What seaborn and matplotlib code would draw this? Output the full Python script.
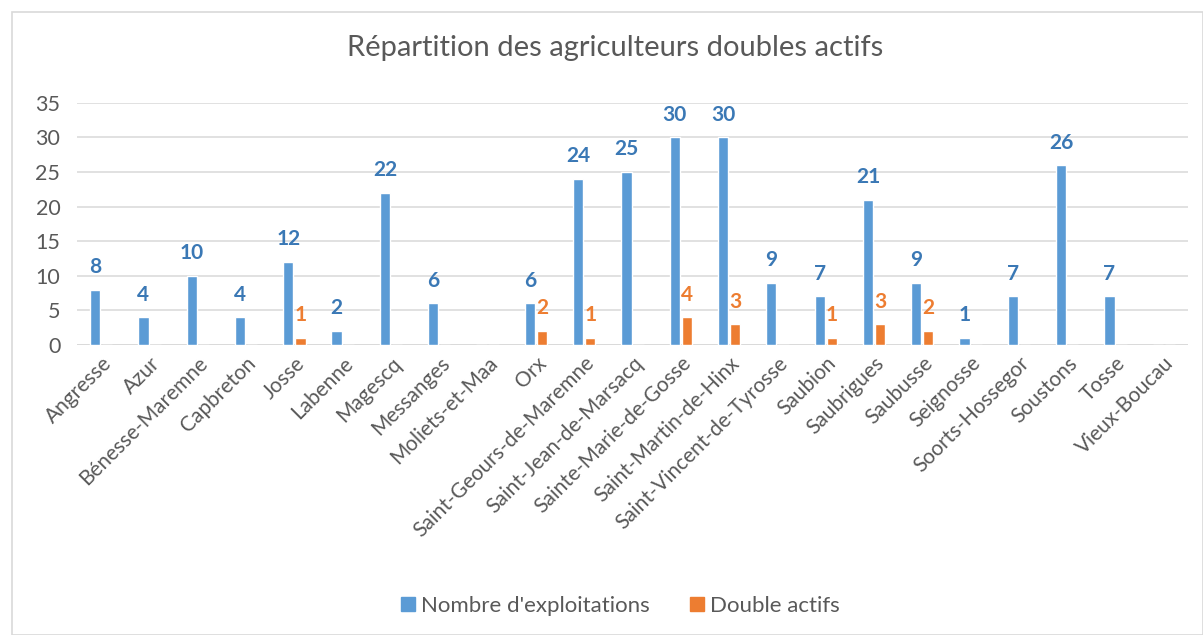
import matplotlib
matplotlib.use("Agg")
import matplotlib.pyplot as plt
import seaborn as sns
import pandas as pd
from matplotlib.patches import Rectangle

communes = [
    "Angresse", "Azur", "Bénesse-Maremne", "Capbreton", "Josse", "Labenne",
    "Magescq", "Messanges", "Moliets-et-Maa", "Orx", "Saint-Geours-de-Maremne",
    "Saint-Jean-de-Marsacq", "Sainte-Marie-de-Gosse", "Saint-Martin-de-Hinx",
    "Saint-Vincent-de-Tyrosse", "Saubion", "Saubrigues", "Saubusse",
    "Seignosse", "Soorts-Hossegor", "Soustons", "Tosse", "Vieux-Boucau",
]
nb_exploitations = [8, 4, 10, 4, 12, 2, 22, 6, 0, 6, 24, 25, 30, 30, 9, 7, 21, 9, 1, 7, 26, 7, 0]
double_actifs = [0, 0, 0, 0, 1, 0, 0, 0, 0, 2, 1, 0, 4, 3, 0, 1, 3, 2, 0, 0, 0, 0, 0]
series = ["Nombre d'exploitations", "Double actifs"]

BLUE = "#5B9BD5"
ORANGE = "#ED7D31"
TEXT = "#595959"

df = pd.DataFrame({
    "Commune": communes * 2,
    "Valeur": nb_exploitations + double_actifs,
    "Serie": [series[0]] * len(communes) + [series[1]] * len(communes),
})

sns.set_theme(style="white")
plt.rcParams["font.family"] = ["Lato", "DejaVu Sans"]

fig = plt.figure(figsize=(12.03, 6.35), dpi=100)
fig.patches.append(Rectangle((0.01, 0.0), 0.99, 0.981, transform=fig.transFigure,
                             fill=False, edgecolor="#D9D9D9", linewidth=1.2))
ax = fig.add_axes([0.064, 0.457, 0.9235, 0.381])

sns.barplot(data=df, x="Commune", y="Valeur", hue="Serie", order=communes,
            hue_order=series, palette=[BLUE, ORANGE], width=0.5, gap=0.15,
            saturation=1, legend=False, ax=ax)

ax.set_ylim(0, 35)
ax.set_yticks(range(0, 36, 5))
ax.set_xlim(-0.5, len(communes) - 0.5)
ax.yaxis.grid(True, color="#D9D9D9", linewidth=1.1)
ax.set_axisbelow(True)
for s in ax.spines.values():
    s.set_visible(False)
ax.axhline(0, color="#D9D9D9", linewidth=1.1, zorder=0)
ax.set_xlabel("")
ax.set_ylabel("")
ax.tick_params(axis="y", length=0, colors=TEXT, labelsize=15.5, pad=12)
ax.tick_params(axis="x", length=0, colors=TEXT, labelsize=15, pad=6)
plt.setp(ax.get_xticklabels(), rotation=45, ha="right", rotation_mode="anchor")

label_colors = ["#3A78B5", ORANGE]
for cont, vals, col in zip(ax.containers, [nb_exploitations, double_actifs], label_colors):
    ax.bar_label(cont, labels=[str(v) if v else "" for v in vals], padding=9,
                 color=col, fontsize=15, fontweight="bold")

fig.suptitle("Répartition des agriculteurs doubles actifs", x=0.511, y=0.945,
             fontsize=21, color=TEXT)

handles = [Rectangle((0, 0), 1, 1, color=BLUE), Rectangle((0, 0), 1, 1, color=ORANGE)]
fig.legend(handles, series, loc="center", bbox_to_anchor=(0.516, 0.046), ncol=2,
           frameon=False, fontsize=16, labelcolor=TEXT, handlelength=0.6,
           handleheight=0.6, handletextpad=0.3, columnspacing=1.8)

fig.savefig("out.png", dpi=100)
